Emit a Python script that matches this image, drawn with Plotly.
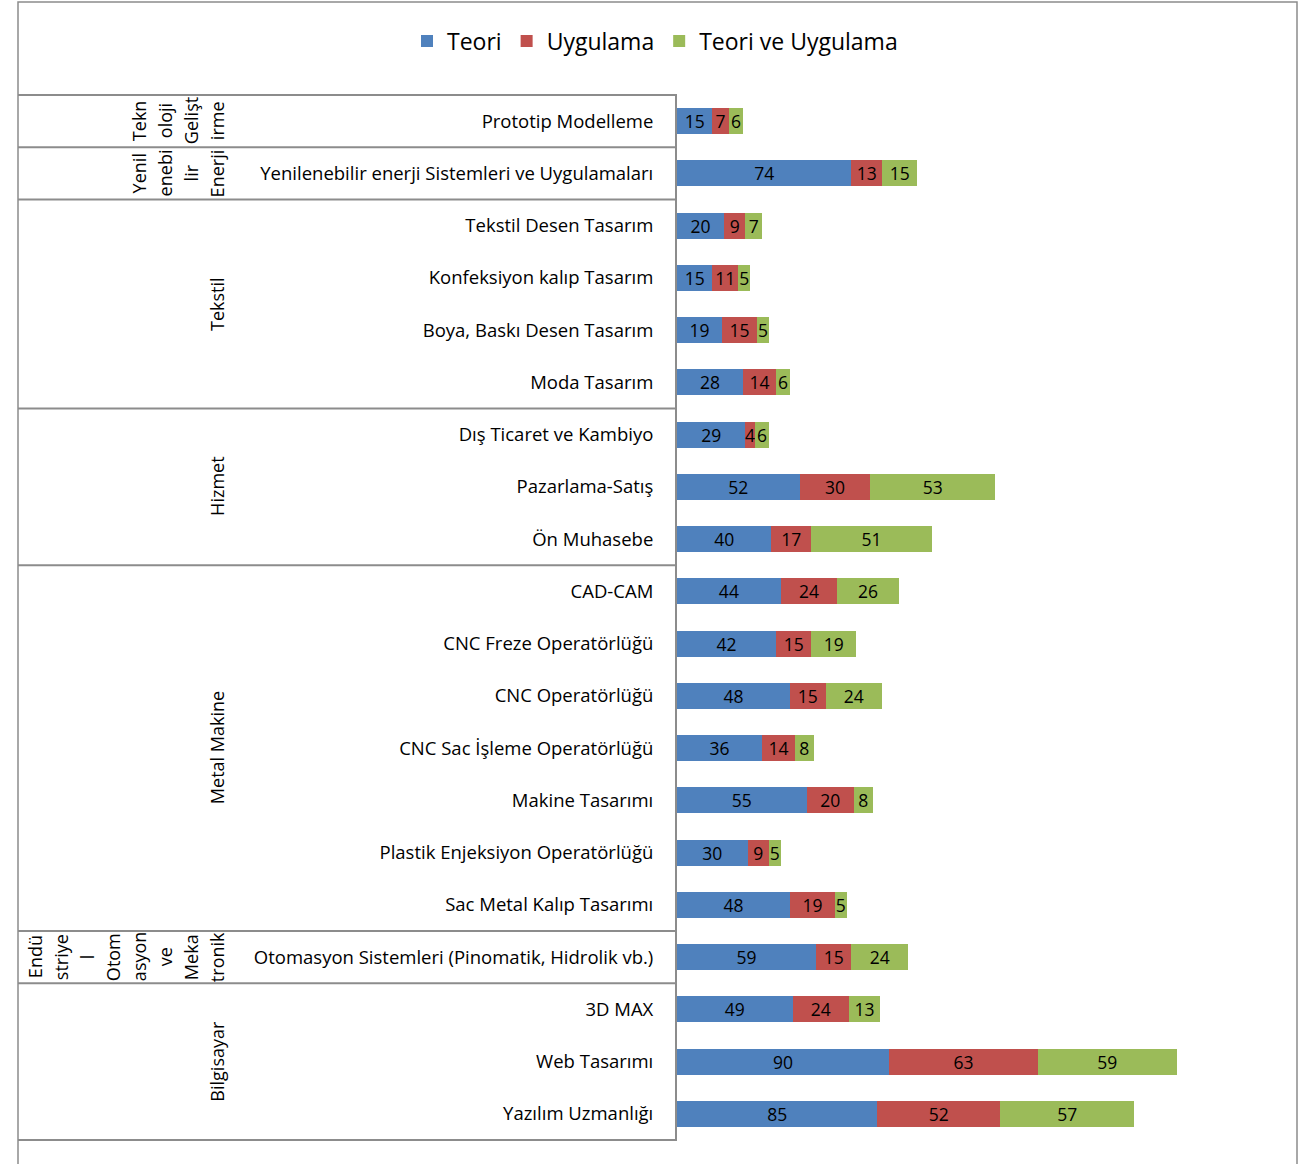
import plotly.graph_objects as go

# Program names (rows, top to bottom)
programs = [
    "Prototip Modelleme",
    "Yenilenebilir enerji Sistemleri ve Uygulamaları",
    "Tekstil Desen Tasarım",
    "Konfeksiyon kalıp Tasarım",
    "Boya, Baskı Desen Tasarım",
    "Moda Tasarım",
    "Dış Ticaret ve Kambiyo",
    "Pazarlama-Satış",
    "Ön Muhasebe",
    "CAD-CAM",
    "CNC Freze Operatörlüğü",
    "CNC Operatörlüğü",
    "CNC Sac İşleme Operatörlüğü",
    "Makine Tasarımı",
    "Plastik Enjeksiyon Operatörlüğü",
    "Sac Metal Kalıp Tasarımı",
    "Otomasyon Sistemleri (Pinomatik, Hidrolik vb.)",
    "3D MAX",
    "Web Tasarımı",
    "Yazılım Uzmanlığı",
]

teori = [15, 74, 20, 15, 19, 28, 29, 52, 40, 44, 42, 48, 36, 55, 30, 48, 59, 49, 90, 85]
uygulama = [7, 13, 9, 11, 15, 14, 4, 30, 17, 24, 15, 15, 14, 20, 9, 19, 15, 24, 63, 52]
teori_ve_uygulama = [6, 15, 7, 5, 5, 6, 6, 53, 51, 26, 19, 24, 8, 8, 5, 5, 24, 13, 59, 57]

# Sector groups: wrapped label lines and number of rows each spans
group_lines = [
    ["Tekn", "oloji", "Gelişt", "irme"],
    ["Yenil", "enebi", "lir", "Enerji"],
    ["Tekstil"],
    ["Hizmet"],
    ["Metal Makine"],
    ["Endü", "striye", "l", "Otom", "asyon", "ve", "Meka", "tronik"],
    ["Bilgisayar"],
]
group_sizes = [1, 1, 4, 3, 7, 1, 3]

series = [
    ("Teori", teori, "#4F81BD"),
    ("Uygulama", uygulama, "#C0504D"),
    ("Teori ve Uygulama", teori_ve_uygulama, "#9BBB59"),
]

W, H = 1309, 1164
PX0, PX1 = 677, 1290   # plot area, horizontal pixels
PY0, PY1 = 95, 1140    # plot area, vertical pixels
FONT = "Open Sans"
GRAY = "#8C8C8C"


def px_x(p):
    return (p - PX0) / (PX1 - PX0)


def px_y(p):
    return (PY1 - p) / (PY1 - PY0)


fig = go.Figure()
for name, vals, color in series:
    fig.add_trace(go.Bar(
        y=programs, x=vals, name=name, orientation="h",
        marker=dict(color=color, line=dict(width=0)),
        text=[str(v) for v in vals], textposition="inside",
        insidetextanchor="middle", textangle=0,
        textfont=dict(family=FONT, size=17.5, color="#000000"),
        cliponaxis=False,
    ))

shapes = []
# outer chart frame
shapes.append(dict(type="rect", xref="paper", yref="paper",
                   x0=px_x(18), x1=px_x(1297), y0=px_y(1175), y1=px_y(2),
                   line=dict(color=GRAY, width=1.5), layer="below"))

# group boundary lines of the category table
row_h = (PY1 - PY0) / len(programs)
bounds = [PY0]
for n in group_sizes:
    bounds.append(bounds[-1] + n * row_h)
for b in bounds:
    shapes.append(dict(type="line", xref="paper", yref="paper",
                       x0=px_x(18), x1=px_x(PX0), y0=px_y(b), y1=px_y(b),
                       line=dict(color=GRAY, width=2)))

annotations = []
line_step = 26
for lines, top, bot in zip(group_lines, bounds[:-1], bounds[1:]):
    cy = (top + bot) / 2
    n = len(lines)
    for i, t in enumerate(lines):
        cx = 217 - line_step * (n - 1 - i)
        annotations.append(dict(
            text=t, xref="paper", yref="paper", x=px_x(cx), y=px_y(cy),
            xanchor="center", yanchor="middle", textangle=-90, showarrow=False,
            font=dict(family=FONT, size=18, color="#000000"),
        ))

fig.update_layout(
    width=W, height=H,
    margin=dict(l=PX0, r=W - PX1, t=PY0, b=H - PY1),
    paper_bgcolor="white", plot_bgcolor="white",
    barmode="stack", bargap=0.5,
    font=dict(family=FONT, size=18, color="#000000"),
    uniformtext=dict(minsize=17.5, mode="show"),
    showlegend=True,
    legend=dict(orientation="h", x=px_x(655), y=px_y(41),
                xanchor="center", yanchor="middle",
                font=dict(family=FONT, size=23, color="#000000"),
                itemwidth=30, tracegroupgap=0, traceorder="normal"),
    xaxis=dict(range=[0, 260], showticklabels=False, showgrid=False,
               zeroline=False, showline=False, fixedrange=True),
    yaxis=dict(type="category", autorange="reversed", showgrid=False,
               showline=True, linecolor=GRAY, linewidth=2, ticks="",
               ticklabelstandoff=18,
               tickfont=dict(family=FONT, size=18.5, color="#000000")),
    shapes=shapes, annotations=annotations,
)

fig.write_html("out.html")
